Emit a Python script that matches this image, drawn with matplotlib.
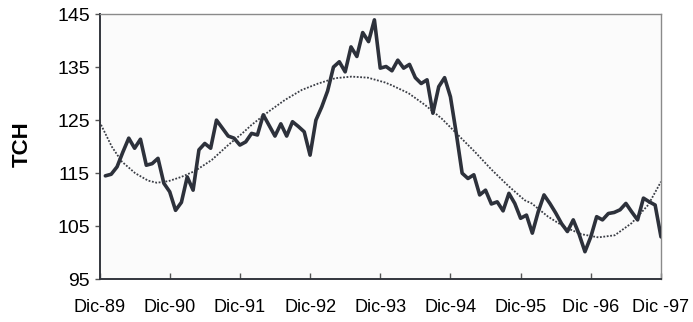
import matplotlib
matplotlib.use("Agg")
import matplotlib.pyplot as plt

plt.rcParams['font.family'] = ['Liberation Sans', 'DejaVu Sans']

# Monthly TCH values, Jan-90 (month 1) through Dec-97 (month 96)
months = list(range(1, 97))
tch = [
    114.5, 114.8, 116.2, 119.0, 121.6, 119.7, 121.4, 116.5, 116.8, 117.8,
    113.1, 111.5, 108.0, 109.5, 114.3, 111.8, 119.4, 120.6, 119.7, 125.0,
    123.5, 122.0, 121.6, 120.3, 120.9, 122.5, 122.2, 126.0, 124.0, 122.0,
    124.3, 122.0, 124.7, 123.8, 122.8, 118.4, 125.0, 127.5, 130.5, 135.0,
    136.0, 134.1, 138.8, 137.0, 141.5, 139.8, 143.9, 134.8, 135.1, 134.3,
    136.3, 134.8, 135.5, 133.0, 131.9, 132.6, 126.3, 131.3, 133.0, 129.4,
    122.5, 115.0, 114.0, 114.7, 110.9, 111.8, 109.2, 109.6, 107.9, 111.2,
    109.3, 106.5, 107.1, 103.7, 107.7, 110.9, 109.3, 107.5, 105.5, 104.0,
    106.2, 103.5, 100.2, 103.0, 106.8, 106.2, 107.4, 107.6, 108.1, 109.3,
    107.7, 106.2, 110.3, 109.6, 109.0, 103.0,
]

# Cyclical trend line
trend_months = [0, 2.1, 3.8, 6.1, 8.3, 9.8, 11.8, 14.0, 16.3, 19.2, 22.0,
                24.3, 26.0, 28.9, 31.7, 34.6, 37.4, 40.3, 43.1, 45.9, 48.8,
                49.9, 52.8, 55.6, 58.5, 61.3, 64.2, 67.0, 69.9, 72.7, 73.9,
                76.7, 79.6, 82.4, 85.3, 88.1, 91.0, 93.8, 96]
trend_vals = [124.7, 120.0, 117.2, 115.0, 113.6, 113.2, 113.5, 114.3, 115.4,
              117.5, 120.3, 122.4, 124.1, 126.6, 128.8, 130.7, 131.9, 132.9,
              133.2, 133.0, 132.1, 131.6, 130.1, 127.9, 125.3, 122.2, 119.0,
              115.7, 112.6, 109.9, 109.3, 106.8, 104.8, 103.5, 102.9, 103.3,
              105.6, 109.0, 113.4]

tick_labels = ['Dic-89', 'Dic-90', 'Dic-91', 'Dic-92', 'Dic-93', 'Dic-94',
               'Dic-95', 'Dic -96', 'Dic -97']
y_ticks = [95, 105, 115, 125, 135, 145]

fig = plt.figure(figsize=(6.93, 3.22), dpi=100)
ax = fig.add_axes([0.1436, 0.1326, 0.8102, 0.8239])
ax.set_facecolor('#fbfbfb')

ax.plot(trend_months, trend_vals, linestyle=(0, (1, 0.9)), color='#3a3d45',
        linewidth=1.3, zorder=2)
ax.plot(months, tch, color='#2d313b', linewidth=2.6, solid_joinstyle='round',
        solid_capstyle='round', zorder=3)

ax.set_xlim(0, 96)
ax.set_ylim(95, 145)
ax.set_yticks(y_ticks)
ax.set_xticks(range(0, 97, 12))
ax.set_xticklabels(tick_labels)

ax.tick_params(axis='y', direction='out', length=3.5, width=1, color='#555555',
               labelsize=14, pad=3.5, labelcolor='black')
ax.tick_params(axis='x', direction='in', length=4, width=1, color='#555555',
               labelsize=13, pad=14, labelcolor='black')

for side in ('left', 'bottom'):
    ax.spines[side].set_color('#33363d')
    ax.spines[side].set_linewidth(1.4)
for side in ('top', 'right'):
    ax.spines[side].set_color('#8a8a8a')
    ax.spines[side].set_linewidth(1.0)

ax.set_ylabel('TCH', fontsize=16, fontweight='bold')
ax.yaxis.set_label_coords(-0.137, 0.51)
ax.yaxis.label.set_verticalalignment('center')

fig.savefig('out.png', dpi=100)
